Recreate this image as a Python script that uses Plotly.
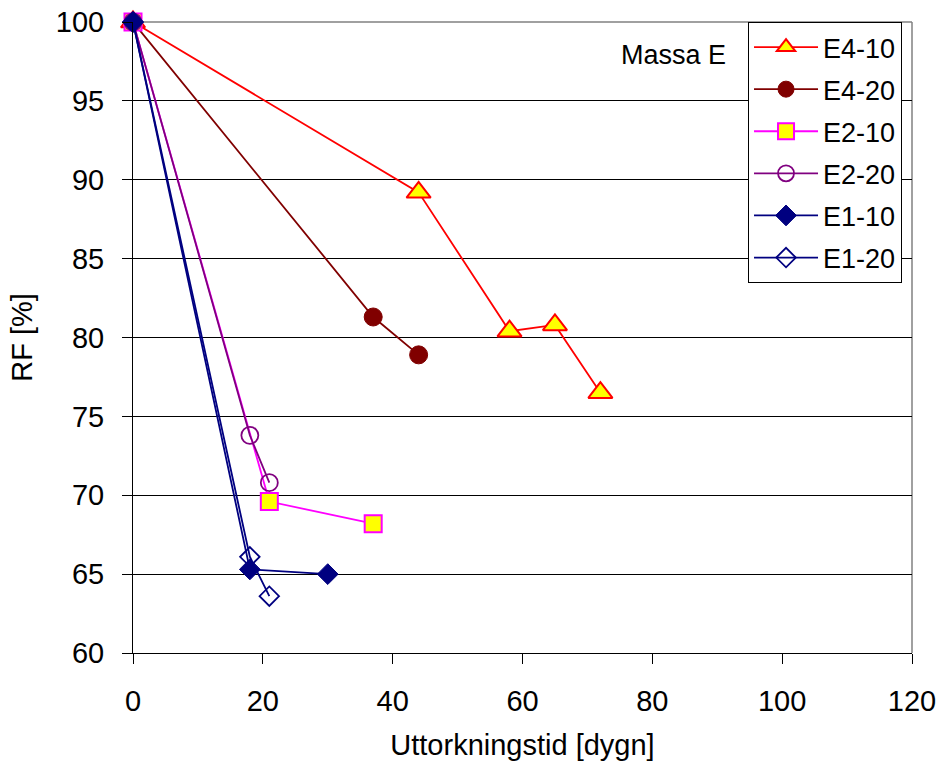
import plotly.graph_objects as go

# Drying time (days) and relative humidity (%) per specimen
e4_10_days = [0, 44, 58, 65, 72]
e4_10_rf = [100, 89.2, 80.4, 80.8, 76.5]

e4_20_days = [0, 37, 44]
e4_20_rf = [100, 81.3, 78.9]

e2_10_days = [0, 21, 37]
e2_10_rf = [100, 69.6, 68.2]

e2_20_days = [0, 18, 21]
e2_20_rf = [100, 73.8, 70.8]

e1_10_days = [0, 18, 30]
e1_10_rf = [100, 65.3, 65.0]

e1_20_days = [0, 18, 21]
e1_20_rf = [100, 66.1, 63.6]

x_ticks = [0, 20, 40, 60, 80, 100, 120]
y_ticks = [60, 65, 70, 75, 80, 85, 90, 95, 100]

FONT = "Liberation Sans, Arial, sans-serif"

series = [
    ("E4-10", e4_10_days, e4_10_rf, "#FF0000",
     dict(symbol="triangle-up", size=21, color="#FFFF00", line=dict(color="#FF0000", width=2))),
    ("E4-20", e4_20_days, e4_20_rf, "#800000",
     dict(symbol="circle", size=18, color="#800000", line=dict(color="#800000", width=1))),
    ("E2-10", e2_10_days, e2_10_rf, "#FF00FF",
     dict(symbol="square", size=17, color="#FFFF00", line=dict(color="#FF00FF", width=2))),
    ("E2-20", e2_20_days, e2_20_rf, "#800080",
     dict(symbol="circle-open", size=17, color="#800080", line=dict(color="#800080", width=1.8))),
    ("E1-10", e1_10_days, e1_10_rf, "#000080",
     dict(symbol="diamond", size=16, color="#000080", line=dict(color="#000080", width=1))),
    ("E1-20", e1_20_days, e1_20_rf, "#000080",
     dict(symbol="diamond-open", size=15, color="#000080", line=dict(color="#000080", width=1.8))),
]

fig = go.Figure()
for name, xs, ys, color, marker in series:
    fig.add_trace(go.Scatter(
        x=xs, y=ys, name=name, mode="lines+markers",
        line=dict(color=color, width=1.8),
        marker=marker, cliponaxis=False, legendgroup=name,
    ))

fig.update_layout(
    width=942, height=767,
    margin=dict(l=133, r=30, t=22, b=114, autoexpand=False),
    paper_bgcolor="white", plot_bgcolor="white",
    font=dict(family=FONT, size=29, color="black"),
    showlegend=True,
    legend=dict(
        x=0.7895, y=1.0, xanchor="left", yanchor="top",
        bgcolor="white", bordercolor="black", borderwidth=1,
        font=dict(family=FONT, size=27, color="black"),
        itemwidth=64, tracegroupgap=4, traceorder="grouped",
    ),
    xaxis=dict(
        range=[0, 120], tickvals=x_ticks, ticks="outside", ticklen=10,
        tickcolor="black", showline=True, linecolor="black", linewidth=1,
        showgrid=False, zeroline=False, ticklabelstandoff=12, automargin=False,
        tickfont=dict(size=29),
        title=dict(text="Uttorkningstid [dygn]", standoff=18, font=dict(size=29)),
    ),
    yaxis=dict(
        range=[60, 100], tickvals=y_ticks, ticks="outside", ticklen=10,
        tickcolor="black", showline=True, linecolor="black", linewidth=1,
        showgrid=True, gridcolor="black", gridwidth=1, zeroline=False,
        ticklabelstandoff=12, automargin=False, tickfont=dict(size=29),
        title=dict(text="RF [%]", standoff=14, font=dict(size=29)),
    ),
    annotations=[dict(
        text="Massa E", x=0.694, y=0.947, xref="paper", yref="paper",
        xanchor="center", yanchor="middle",
        showarrow=False, font=dict(family=FONT, size=27, color="black"),
    )],
    shapes=[
        dict(type="line", xref="paper", yref="paper", x0=0, x1=1, y0=1, y1=1,
             line=dict(color="#808080", width=1.5), layer="below"),
        dict(type="line", xref="paper", yref="paper", x0=1, x1=1, y0=0, y1=1,
             line=dict(color="#808080", width=1.5), layer="below"),
    ],
)

fig.write_html("out.html")
